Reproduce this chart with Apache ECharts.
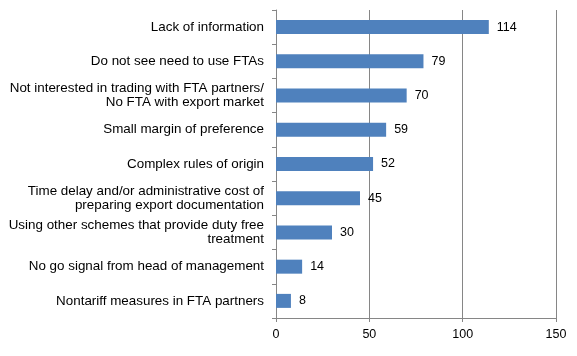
<!DOCTYPE html>
<html><head><meta charset="utf-8">
<script src="https://cdn.jsdelivr.net/npm/echarts@6/dist/echarts.min.js"></script>
<style>html,body{margin:0;padding:0;background:#fff}#c{width:577px;height:356px}</style>
</head><body><div id="c"></div>
<script>
const categories = [
  "Lack of information",
  "Do not see need to use FTAs",
  "Not interested in trading with FTA partners/\nNo FTA with export market",
  "Small margin of preference",
  "Complex rules of origin",
  "Time delay and/or administrative cost of\npreparing export documentation",
  "Using other schemes that provide duty free\ntreatment",
  "No go signal from head of management",
  "Nontariff measures in FTA partners"
];
const values = [114, 79, 70, 59, 52, 45, 30, 14, 8];
const xTicks = [0, 50, 100, 150];

const chart = echarts.init(document.getElementById('c'));
chart.setOption({
  animation: false,
  textStyle: { fontFamily: 'Liberation Sans, Arial, sans-serif' },
  grid: { left: 276, right: 21, top: 10, bottom: 38, containLabel: false },
  xAxis: {
    type: 'value', min: xTicks[0], max: xTicks[xTicks.length-1], interval: 50,
    axisLine: { show: true, lineStyle: { color: '#868686' } },
    axisTick: { show: true, length: 4, lineStyle: { color: '#868686' } },
    axisLabel: { color: '#000', fontSize: 12.5, margin: 10 },
    splitLine: { show: true, lineStyle: { color: '#868686', width: 1 } }
  },
  yAxis: {
    type: 'category', data: categories, inverse: true,
    axisLine: { show: true, lineStyle: { color: '#868686' } },
    axisTick: { show: true, length: 4, alignWithLabel: false, lineStyle: { color: '#868686' } },
    axisLabel: { color: '#000', fontSize: 13.4, margin: 12, lineHeight: 14, align: 'right' }
  },
  series: [{
    type: 'bar', data: values, barWidth: 14,
    itemStyle: { color: '#4F81BD' },
    label: { show: true, position: 'right', distance: 8, color: '#000', fontSize: 12.5 }
  }]
});
</script></body></html>
